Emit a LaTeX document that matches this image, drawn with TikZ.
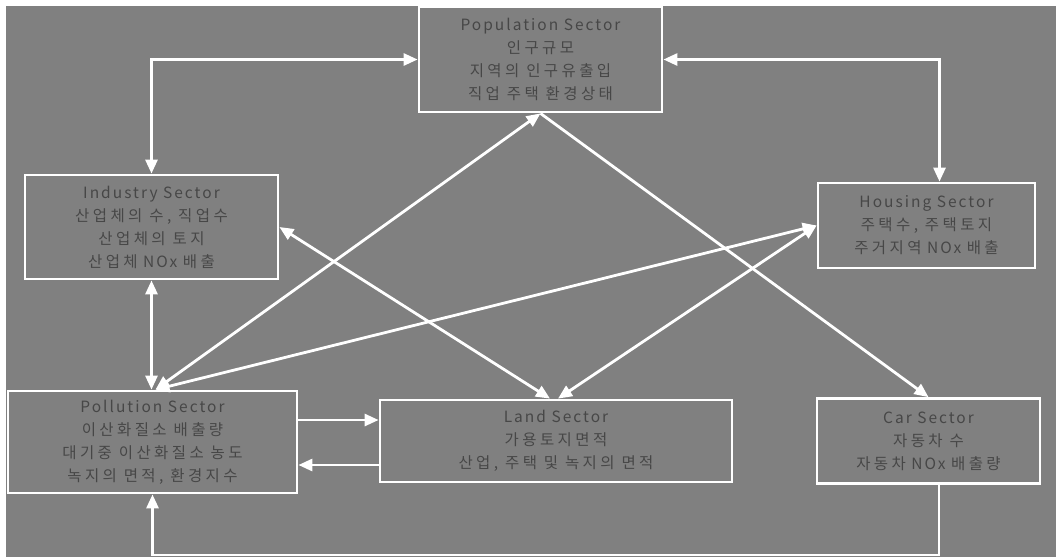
\documentclass[tikz,border=0pt]{standalone}
\usepackage{fontspec}
\setmainfont{Noto Sans CJK KR}
\newfontfamily\boxfont[LetterSpace=13]{Noto Sans CJK KR}
\newfontfamily\kofont[LetterSpace=22]{Noto Sans CJK KR}
\newcommand{\ko}[1]{{\kofont #1}}
\usetikzlibrary{arrows.meta}
\definecolor{bggray}{HTML}{808080}
\begin{document}
\begin{tikzpicture}[x=1pt,y=-1pt,
  >={Triangle[width=12pt,length=14pt]},
  box/.style={draw=white, line width=2.8pt, inner sep=0pt, align=center,
    font=\boxfont\fontsize{15.5}{23}\selectfont, text=black!72},
  link/.style={draw=white, line width=2.8pt, ->},
  both/.style={draw=white, line width=2.8pt, <->}]
\useasboundingbox (0,0) rectangle (1056,557);
\fill[white] (0,0) rectangle (1056,557);
\fill[bggray] (6,6) rectangle (1056,557);

\node[box, minimum width=243pt, minimum height=105pt] (pop) at (540.5,59.5)
  {Population Sector\\\ko{인구규모}\\\ko{지역의 인구유출입}\\\ko{직업 주택 환경상태}};
\node[box, minimum width=253pt, minimum height=104pt] (ind) at (151.5,227)
  {Industry Sector\\\ko{산업체의 수, 직업수}\\\ko{산업체의 토지}\\\ko{산업체} NOx \ko{배출}};
\node[box, minimum width=217pt, minimum height=85pt] (hou) at (926.5,225.5)
  {Housing Sector\\\ko{주택수, 주택토지}\\\ko{주거지역} NOx \ko{배출}};
\node[box, minimum width=289pt, minimum height=102pt] (pol) at (152.5,442)
  {Pollution Sector\\\ko{이산화질소 배출량}\\\ko{대기중 이산화질소 농도}\\\ko{녹지의 면적, 환경지수}};
\node[box, minimum width=352pt, minimum height=82pt] (land) at (556,441)
  {Land Sector\\\ko{가용토지면적}\\\ko{산업, 주택 및 녹지의 면적}};
\node[box, minimum width=223pt, minimum height=85pt] (car) at (928.5,441)
  {Car Sector\\\ko{자동차 수}\\\ko{자동차} NOx \ko{배출량}};

% top loop
\coordinate (houT) at ([xshift=13pt]hou.north);
\draw[both] (pop.west) -| (ind.north);
\draw[both] (pop.east) -| (houT);
% industry - pollution
\coordinate (polT) at (ind.south |- pol.north);
\draw[both] (ind.south) -- (polT);
% pollution apex
\coordinate (apex) at ([xshift=3pt]pol.north);
\draw[both] (apex) -- (pop.south);
\draw[both] (apex) -- (hou.west);
% crossing to land
\coordinate (landA) at ([xshift=-6pt]land.north);
\coordinate (landB) at ([xshift=2pt]land.north);
\draw[both] (ind.east) -- (landA);
\draw[both] (hou.west) -- (landB);
% population to car
\draw[link] (pop.south) -- (car.north);
% pollution <-> land
\coordinate (pl1) at ([yshift=22pt]pol.east);
\draw[link] (pl1) -- (pl1 -| land.west);
\coordinate (lp1) at ([yshift=-24pt]land.west);
\draw[link] (lp1) -- (lp1 -| pol.east);
% bottom feedback
\coordinate (carB) at ([xshift=10.5pt]car.south);
\coordinate (bot) at (pol.south |- 0,555);
\draw[link] (carB) |- (bot) -- (pol.south);
\end{tikzpicture}
\end{document}
